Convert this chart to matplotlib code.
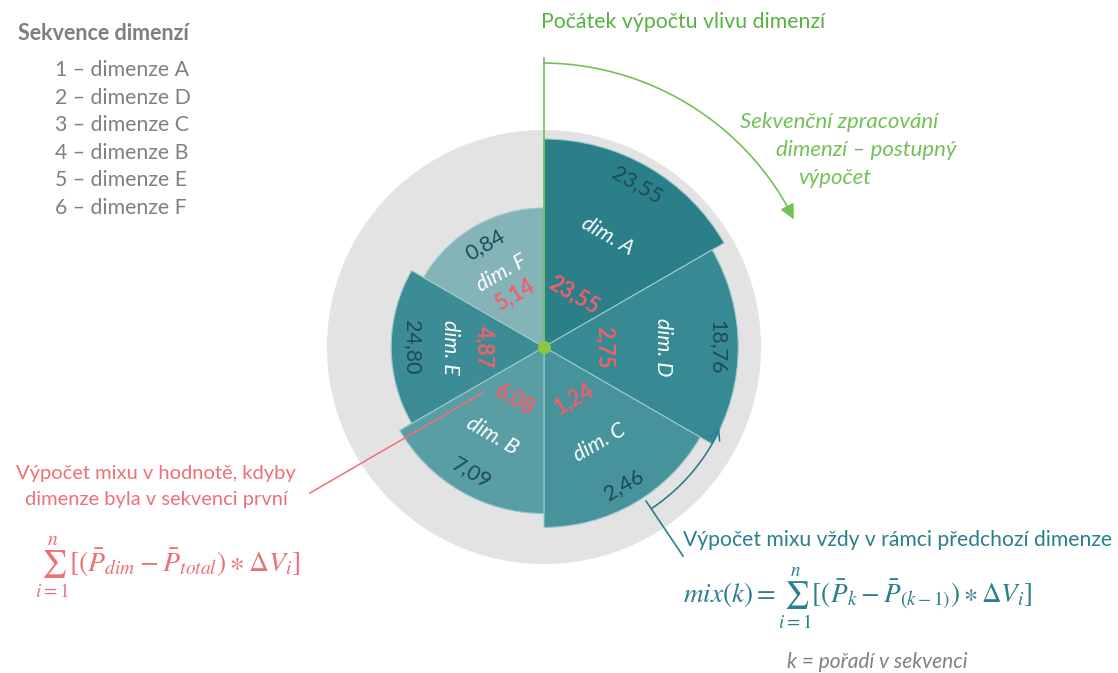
import numpy as np
import matplotlib
matplotlib.use("Agg")
import matplotlib.pyplot as plt

plt.rcParams['font.family'] = ['Lato', 'DejaVu Sans']
plt.rcParams['mathtext.fontset'] = 'stix'

# ---------------- data ----------------
dims = ['A', 'D', 'C', 'B', 'E', 'F']              # sequence order (clockwise from top)
outer_values = [23.55, 18.76, 2.46, 7.09, 24.80, 0.84]   # mix within previous dimension
first_values = [23.55, 2.75, 1.24, 6.08, 4.87, 5.14]     # mix if dimension were first
sequence_order = [1, 2, 3, 4, 5, 6]
legend_items = ['1 – dimenze A', '2 – dimenze D', '3 – dimenze C',
                '4 – dimenze B', '5 – dimenze E', '6 – dimenze F']
sector_colors = ['#2a7f89', '#378a93', '#46939b', '#5a9ea5', '#3b8c94', '#85b4b8']

# ---------------- geometry ----------------
W, H = 1118, 673
cx, cy = 544, 347
R_grey = 217
R_first = 208
R_step = 13.8

def fmt(v):
    return f"{v:.2f}".replace('.', ',')

def tang_rot(theta_deg):
    rot = (-theta_deg + 180) % 360 - 180
    if rot >= 90:
        rot -= 180
    if rot < -90:
        rot += 180
    return rot

fig = plt.figure(figsize=(W / 100, H / 100), dpi=100)
fig.patch.set_facecolor('white')

# polar axes for the sectors
pax = fig.add_axes([(cx - R_grey) / W, (H - cy - R_grey) / H, 2 * R_grey / W, 2 * R_grey / H],
                   projection='polar')
pax.set_theta_zero_location('N')
pax.set_theta_direction(-1)
pax.set_ylim(0, R_grey)
pax.set_facecolor('#e3e3e3')
pax.grid(False)
pax.set_xticks([])
pax.set_yticks([])
pax.spines['polar'].set_visible(False)

n = len(dims)
width = 2 * np.pi / n
thetas = np.arange(n) * width + width / 2
radii = [R_first - R_step * (k - 1) for k in sequence_order]
pax.bar(thetas, radii, width=width, bottom=0, color=sector_colors,
        edgecolor='#9cc8cc', linewidth=0.8, align='center')

for th, r, d, ov, fv in zip(thetas, radii, dims, outer_values, first_values):
    rot = tang_rot(np.degrees(th))
    pax.text(th, r - 21, fmt(ov), rotation=rot, rotation_mode='anchor',
             ha='center', va='center', fontsize=15.5, color='#1e4a5a')
    pax.text(th, r * 0.615, f'dim. {d}', rotation=rot, rotation_mode='anchor',
             ha='center', va='center', fontsize=15.5, color='white', style='italic')
    pax.text(th, 60, fmt(fv), rotation=rot, rotation_mode='anchor',
             ha='center', va='center', fontsize=15.5, color='#f0606a', fontweight='bold')

# overlay axes in pixel coordinates
ax = fig.add_axes([0, 0, 1, 1])
ax.set_xlim(0, W)
ax.set_ylim(H, 0)
ax.axis('off')

green = '#72c157'
green_txt = '#55b343'
teal = '#2b7f8a'
red = '#ef6f78'
grey = '#808080'

def pt(angle_deg, r):
    a = np.radians(angle_deg)
    return cx + r * np.sin(a), cy - r * np.cos(a)

# green start line + dot
ax.plot([cx, cx], [58, cy], color=green, lw=1.2, zorder=5)
ax.scatter([cx], [cy], s=70, color='#8dc63f', zorder=6)

# green arc with arrow
angs = np.linspace(0, 60, 100)
rr = np.linspace(284, 281, 100)
xs, ys = pt(angs, rr)
ax.plot(xs, ys, color=green, lw=1.2)
ax.annotate('', xy=pt(63.5, 280.5), xytext=pt(59.5, 281),
            arrowprops=dict(arrowstyle='-|>', color=green, lw=1.2, mutation_scale=22))

# teal arc with arrow
angs2 = np.linspace(146, 117, 60)
xs2, ys2 = pt(angs2, 194)
ax.plot(xs2, ys2, color=teal, lw=1.2)
ax.annotate('', xy=pt(114, 193), xytext=pt(118, 194),
            arrowprops=dict(arrowstyle='->', color=teal, lw=1.2, mutation_scale=18))
ax.plot([646, 683], [501, 556], color=teal, lw=1.2)

# red leader line
ax.plot([310, 484], [493, 392], color=red, lw=1.1)

# legend
ax.text(18, 33, 'Sekvence dimenzí', fontsize=15.5, fontweight='bold', color='#7f7f7f',
        ha='left', va='center')
for i, item in enumerate(legend_items):
    ax.text(55, 70 + 27.6 * i, item, fontsize=15.3, color=grey, ha='left', va='center')

# green texts
ax.text(541, 22, 'Počátek výpočtu vlivu dimenzí', fontsize=15.3, color=green_txt,
        ha='left', va='center')
for s, x, y in [('Sekvenční zpracování', 740, 122), ('dimenzí – postupný', 776, 150),
                ('výpočet', 798, 178)]:
    ax.text(x, y, s, fontsize=16, color=green, style='italic', ha='left', va='center')

# red texts
ax.text(156, 473, 'Výpočet mixu v hodnotě, kdyby', fontsize=14.5, color=red,
        ha='center', va='center')
ax.text(156, 500, 'dimenze byla v sekvenci první', fontsize=14.5, color=red,
        ha='center', va='center')
ax.text(35, 568, r'$\sum_{i=1}^{n}[(\bar{P}_{dim}-\bar{P}_{total})\ast\Delta V_i]$',
        fontsize=20, color=red, ha='left', va='center')

# teal texts
ax.text(683, 540, 'Výpočet mixu vždy v rámci předchozí dimenze', fontsize=15.2, color=teal,
        ha='left', va='center')
ax.text(683, 598, r'$mix(k)=\sum_{i=1}^{n}[(\bar{P}_k-\bar{P}_{(k-1)})\ast\Delta V_i]$',
        fontsize=19.5, color=teal, ha='left', va='center')
ax.text(787, 662, 'k = pořadí v sekvenci', fontsize=15, color=grey, style='italic',
        ha='left', va='center')

fig.savefig('out.png', dpi=100, facecolor='white')
